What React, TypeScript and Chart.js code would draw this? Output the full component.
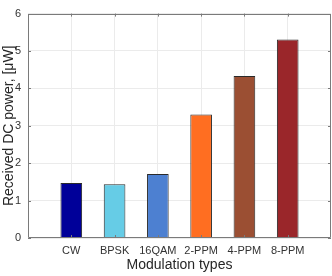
import React, { useEffect, useRef } from "react";
import { Chart, registerables } from "chart.js";

Chart.register(...registerables);

const categories = ["CW", "BPSK", "16QAM", "2-PPM", "4-PPM", "8-PPM"];
const positions = [1, 2, 3, 4, 5, 6];
const values = [1.47, 1.44, 1.71, 3.3, 4.33, 5.31];
const barColors = ["#000099", "#66CCE6", "#4D80D1", "#FF6E21", "#9B4F33", "#9A262A"];
const yTicks = [0, 1, 2, 3, 4, 5, 6];

const FONT = "'Liberation Sans', Arial, Helvetica, sans-serif";

const boxPlugin = {
  id: "boxPlugin",
  afterDraw(chart: any) {
    const { ctx, chartArea } = chart;
    const { left, right, top, bottom } = chartArea;
    const xs = chart.scales.x;
    const ys = chart.scales.y;
    ctx.save();
    ctx.strokeStyle = "#7a7a7a";
    ctx.lineWidth = 1;
    ctx.beginPath();
    ctx.rect(Math.round(left) + 0.5, Math.round(top) + 0.5, Math.round(right - left) - 1, Math.round(bottom - top) - 1);
    ctx.stroke();
    const tl = 3;
    ctx.beginPath();
    positions.forEach((p) => {
      const x = Math.round(xs.getPixelForValue(p)) + 0.5;
      ctx.moveTo(x, bottom);
      ctx.lineTo(x, bottom - tl);
      ctx.moveTo(x, top);
      ctx.lineTo(x, top + tl);
    });
    yTicks.forEach((v) => {
      const y = Math.round(ys.getPixelForValue(v)) + 0.5;
      ctx.moveTo(left, y);
      ctx.lineTo(left + tl, y);
      ctx.moveTo(right, y);
      ctx.lineTo(right - tl, y);
    });
    ctx.stroke();
    ctx.restore();
  },
};

export default function App() {
  const ref = useRef<HTMLCanvasElement>(null);
  useEffect(() => {
    document.body.style.margin = "0";
    const chart = new Chart(ref.current as HTMLCanvasElement, {
      type: "bar",
      data: {
        datasets: [
          {
            data: positions.map((p, i) => ({ x: p, y: values[i] })),
            backgroundColor: barColors,
            borderColor: "#2a2a2a",
            borderWidth: 1,
            barPercentage: 0.5,
            categoryPercentage: 1,
          },
        ],
      },
      options: {
        responsive: false,
        animation: false,
        layout: { padding: { top: 4, right: 1, left: 0, bottom: 0 } },
        plugins: { legend: { display: false }, tooltip: { enabled: false } },
        scales: {
          x: {
            type: "linear",
            min: 0,
            max: 7,
            offset: false,
            afterBuildTicks(scale: any) {
              scale.ticks = positions.map((p) => ({ value: p }));
            },
            afterFit(scale: any) {
              scale.height = 38;
            },
            grid: { color: "#EBEBEB", drawTicks: false, offset: false },
            border: { display: false },
            ticks: {
              padding: 6,
              color: "#333333",
              font: { family: FONT, size: 11 },
              autoSkip: false,
              maxRotation: 0,
              callback: (v: any) => {
                const i = positions.indexOf(Number(v));
                return i >= 0 ? categories[i] : "";
              },
            },
            title: {
              display: true,
              text: "Modulation types",
              color: "#262626",
              font: { family: FONT, size: 14 },
              padding: { top: 0, bottom: 2 },
            },
          },
          y: {
            min: 0,
            max: 6,
            afterBuildTicks(scale: any) {
              scale.ticks = yTicks.map((v) => ({ value: v }));
            },
            afterFit(scale: any) {
              scale.width = 28;
            },
            grid: { color: "#EBEBEB", drawTicks: false },
            border: { display: false },
            ticks: {
              padding: 7,
              color: "#333333",
              font: { family: FONT, size: 11 },
            },
            title: {
              display: true,
              text: "Received DC power, [μW]",
              color: "#262626",
              font: { family: FONT, size: 14 },
              padding: { top: 1, bottom: 0 },
            },
          },
        },
      },
      plugins: [boxPlugin],
    });
    return () => chart.destroy();
  }, []);
  return (
    <div style={{ width: 332, height: 276 }}>
      <canvas ref={ref} width={332} height={276} />
    </div>
  );
}
